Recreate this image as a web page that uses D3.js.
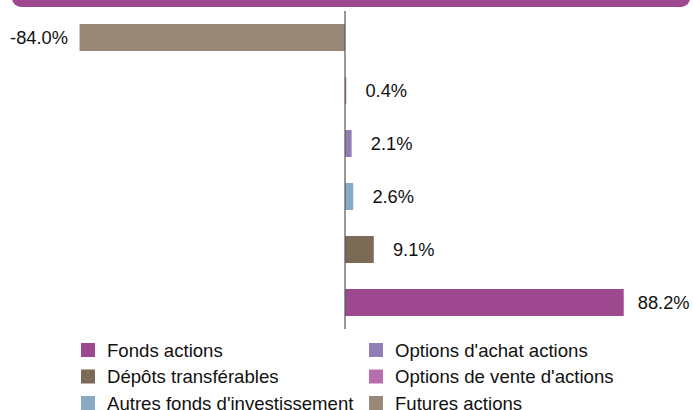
<!DOCTYPE html>
<html lang="fr">

<head>
    <meta charset="UTF-8">
    <title>Répartition</title>
    <style>
        body {
            margin: 0;
            font-family: "Liberation Sans", Arial, sans-serif;
            background: #fff;
        }
    </style>
</head>

<body>
    <div id="chart"></div>
    <script src="https://d3js.org/d3.v7.min.js"></script>
    <script>
        // bars, top to bottom
        const categories = [
            "Futures actions",
            "Options de vente d'actions",
            "Options d'achat actions",
            "Autres fonds d'investissement",
            "Dépôts transférables",
            "Fonds actions"
        ];
        const values = [-84.0, 0.4, 2.1, 2.6, 9.1, 88.2];
        const colors = ["#988877", "#b86eaf", "#907fb4", "#8aaac4", "#7a6a56", "#9e4890"];

        // legend, column by column
        const legendOrder = [
            "Fonds actions",
            "Dépôts transférables",
            "Autres fonds d'investissement",
            "Options d'achat actions",
            "Options de vente d'actions",
            "Futures actions"
        ];

        function drawChart() {
            const width = 693;
            const height = 410;

            const svg = d3.select("#chart").append("svg")
                .attr("width", width)
                .attr("height", height)
                .attr("viewBox", [0, 0, width, height])
                .style("display", "block");

            // header band
            svg.append("rect")
                .attr("x", 12)
                .attr("y", -20)
                .attr("width", 678)
                .attr("height", 27)
                .attr("rx", 9)
                .attr("fill", "#9e4890");

            const x = d3.scaleLinear()
                .domain([-100, 100])
                .range([29, 661]);

            const y = d3.scaleBand()
                .domain(categories)
                .range([11, 329])
                .paddingInner(0.49)
                .paddingOuter(0.245);

            const color = d3.scaleOrdinal()
                .domain(categories)
                .range(colors);

            const rows = categories.map((c, i) => ({ key: c, value: values[i] }));

            svg.append("g")
                .selectAll("rect")
                .data(rows)
                .join("rect")
                .attr("x", d => x(Math.min(0, d.value)))
                .attr("y", d => y(d.key))
                .attr("width", d => Math.abs(x(d.value) - x(0)))
                .attr("height", y.bandwidth())
                .attr("fill", d => color(d.key));

            // value labels
            svg.append("g")
                .attr("font-size", 18.3)
                .attr("fill", "#111")
                .attr("text-anchor", "middle")
                .selectAll("text")
                .data(rows)
                .join("text")
                .attr("x", d => x(d.value) + (d.value < 0 ? -40.5 : 40))
                .attr("y", d => y(d.key) + y.bandwidth() / 2)
                .attr("dy", "0.35em")
                .text(d => d.value.toFixed(1) + "%");

            // zero axis
            svg.append("line")
                .attr("x1", x(0))
                .attr("x2", x(0))
                .attr("y1", 11)
                .attr("y2", 329)
                .attr("stroke", "#555")
                .attr("stroke-width", 1.2);

            // legend
            const legend = svg.append("g")
                .attr("font-size", 18.6)
                .attr("fill", "#111")
                .selectAll("g")
                .data(legendOrder)
                .join("g")
                .attr("transform", (d, i) => `translate(${i < 3 ? 81 : 369},${350 + (i % 3) * 26.5})`);

            legend.append("rect")
                .attr("y", -7)
                .attr("width", 14)
                .attr("height", 14)
                .attr("fill", d => color(d));

            legend.append("text")
                .attr("x", 26)
                .attr("dy", "0.35em")
                .text(d => d);
        }

        document.addEventListener("DOMContentLoaded", drawChart);
    </script>
</body>

</html>
